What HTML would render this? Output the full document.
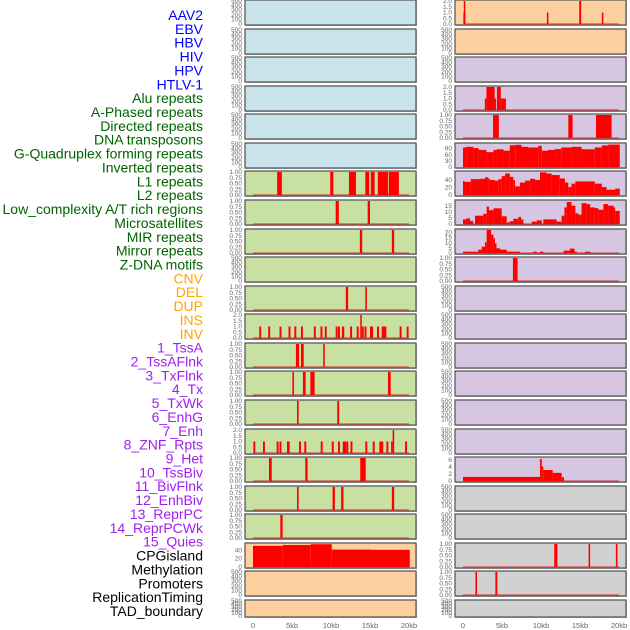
<!DOCTYPE html>
<html><head><meta charset="utf-8"><style>
html,body{margin:0;padding:0;background:#fff;}
svg{display:block;font-family:"Liberation Sans",sans-serif;}
</style></head><body>
<svg id="chart" width="630" height="630" viewBox="0 0 630 630" xmlns="http://www.w3.org/2000/svg"></svg>
<script>
const trackLabels=["AAV2","EBV","HBV","HIV","HPV","HTLV-1","Alu repeats","A-Phased repeats","Directed repeats","DNA transposons","G-Quadruplex forming repeats","Inverted repeats","L1 repeats","L2 repeats","Low_complexity A/T rich regions","Microsatellites","MIR repeats","Mirror repeats","Z-DNA motifs","CNV","DEL","DUP","INS","INV","1_TssA","2_TssAFlnk","3_TxFlnk","4_Tx","5_TxWk","6_EnhG","7_Enh","8_ZNF_Rpts","9_Het","10_TssBiv","11_BivFlnk","12_EnhBiv","13_ReprPC","14_ReprPCWk","15_Quies","CPGisland","Methylation","Promoters","ReplicationTiming","TAD_boundary"];
const labelGroups=["v","v","v","v","v","v","r","r","r","r","r","r","r","r","r","r","r","r","r","c","c","c","c","c","h","h","h","h","h","h","h","h","h","h","h","h","h","h","h","o","o","o","o","o"];
const xTickValues=[0,5,10,15,20];
const xTickLabels=["0","5kb","10kb","15kb","20kb"];
// background group per row
const leftBg=["b","b","b","b","b","b","g","g","g","g","g","g","g","g","g","g","g","g","g","p","p","p"];
const rightBg=["p","p","l","l","l","l","l","l","l","l","l","l","l","l","l","l","l","y","y","y","y","y"];
// tick sets: e=0..500 empty, u=0..1, t=0..2
const leftTickSet=["e","e","e","e","e","e","u","u","u","e","u","t","u","u","u","t","u","u","u","cpg","e","e"];
const rightTickSet=["t","e","e","t","u","gq","l1","lc","ms","u","e","e","e","e","e","e","het","e","e","u","u","e"];
const leftSegs=[[],[],[],[],[],[],
[[3.1,3.7,1],[9.9,10.3,1],[12.3,13.2,1],[14.4,14.9,1],[15.1,15.6,1],[16.0,17.3,1],[17.4,18.7,1]],
[[10.6,11.0,1],[14.7,15.0,1]],
[[13.7,14.0,1],[17.8,18.1,1]],
[],
[[11.9,12.2,1],[14.4,14.6,1]],
[[0.8,1.05,1],[1.95,2.2,1],[3.4,3.65,1],[4.55,4.8,1],[5.3,5.55,1],[6.15,6.4,1],[7.8,8.05,1],[8.65,8.9,1],[9.2,9.45,1],[10.6,10.85,1],[10.9,11.15,1],[11.4,11.7,1],[12.45,12.7,1],[13.3,13.55,1],[13.75,13.95,2],[13.95,14.2,1],[14.3,14.55,1],[15.0,15.4,1],[15.9,16.15,1],[16.5,17.1,1],[18.8,19.05,1],[19.7,19.95,1]],
[[5.5,5.9,1],[6.15,6.5,1],[9.0,9.2,1]],
[[5.05,5.25,1],[6.4,6.75,1],[7.35,7.9,1],[17.3,17.65,1]],
[[5.64,5.85,1],[10.8,11.05,1]],
[[0.05,0.3,1],[1.28,1.53,1],[3.03,3.28,1],[3.4,3.65,1],[4.36,4.7,1],[5.9,6.15,1],[6.58,6.83,1],[8.68,8.93,1],[10.1,10.35,1],[10.9,11.15,1],[11.5,11.95,1],[11.97,12.22,1],[12.5,12.75,1],[14.4,14.65,1],[15.35,15.6,1],[16.2,16.7,1],[17.1,17.35,1],[17.7,17.9,1],[17.9,18.1,2],[19.5,19.75,1]],
[[2.05,2.4,1],[6.7,7.0,1],[13.75,14.45,1]],
[[5.64,5.85,1],[10.2,10.5,1],[11.3,11.6,1],[17.8,18.1,1]],
[[3.5,3.8,1]],
[[0,3.8,51],[3.8,7.4,53],[7.4,10.1,55],[10.1,15,42],[15,20.1,41.5]],
[],[]];
const rightSegs=[
[[0.05,0.3,1],[0.1,0.25,2],[10.75,10.95,1],[14.9,15.15,2],[17.8,18.0,1]],
[],[],
[[2.8,3.0,1],[3.0,4.05,2],[4.05,4.2,1],[4.35,4.85,2],[4.85,5.5,1]],
[[3.85,4.6,1],[13.5,14.05,1],[17.05,19.05,1]],
[[0,0.4,96],[0.4,1.33,99],[1.33,2,93],[2,3,84],[3,3.9,73],[3.9,4.3,84],[4.3,5.2,87],[5.2,6,80],[6,6.7,107],[6.7,7.5,109],[7.5,8.4,99],[8.4,9.65,96],[9.65,10.1,104],[10.1,10.9,80],[10.9,11.8,84],[11.8,12.6,88],[12.6,13.9,96],[13.9,15.2,99],[15.2,16.9,87],[16.9,17.8,96],[17.8,18.6,106],[18.6,20.1,110]],
[[0,0.15,37],[0.15,1,35],[1,2.18,42],[2.18,2.82,43],[2.82,3.25,47],[3.25,3.46,43],[3.46,4.1,40],[4.1,4.53,38],[4.53,4.96,42],[4.96,5.4,50],[5.4,6,57],[6,6.45,48],[6.45,6.67,40],[6.67,7.3,23],[7.3,7.95,33],[7.95,8.6,38],[8.6,9.23,43],[9.23,9.87,40],[9.87,10.7,60],[10.7,11.37,57],[11.37,12.4,53],[12.4,13.07,44],[13.07,13.5,33],[13.5,13.9,21],[13.9,14.4,30],[14.4,16.9,36],[16.9,17.8,30],[17.8,18.4,21],[18.4,19.5,14],[19.5,20.1,17]],
[[0,0.4,3.9],[0.4,0.9,4.7],[0.9,1.3,2.6],[1.54,2.6,7],[2.6,3.03,8.5],[3.03,3.33,14.7],[3.33,3.9,11.6],[3.9,4.96,13.2],[4.96,5.6,6.5],[5.6,6.0,1.3],[6.0,6.45,2.3],[6.45,7.1,4.4],[7.1,7.44,6],[7.44,7.74,3.9],[8.8,9.45,2],[9.45,10.1,3.1],[10.3,12.0,3.9],[12.0,12.65,2],[12.65,13.0,7],[13.0,13.3,14],[13.3,13.9,18.6],[13.9,14.4,15.5],[14.4,14.8,9],[14.8,15.2,7.8],[15.2,15.85,17.6],[15.85,16.3,16.8],[16.3,16.9,14],[16.9,17.35,13.4],[17.35,18.0,12],[18.0,18.6,16.8],[18.6,19.3,15.5],[19.3,19.5,14],[19.5,20.1,11]],
[[0,1.96,1.3],[1.96,2.4,3.3],[2.4,2.82,6.2],[2.82,3.03,10.5],[3.03,3.6,22.6],[3.6,3.9,18],[3.9,4.1,14.4],[4.1,4.3,9.5],[4.3,4.75,4.6],[4.75,5.6,3.3],[5.6,7.3,1.3],[9.0,9.45,1.3],[9.87,10.3,1.3],[12.9,13.7,2.3],[13.7,14.3,4.3],[14.3,14.6,1.3],[15.65,16.3,1.3]],
[[6.4,7.0,1]],
[],[],[],[],[],[],
[[0,9.87,1.15],[9.87,10.1,6.2],[10.1,10.3,4.1],[10.3,11.5,3.1],[11.5,12.65,2.3],[12.65,12.95,1.06]],
[],[],
[[11.7,12.1,1],[16.1,16.3,1],[19.6,19.8,1]],
[[1.6,1.8,1],[4.15,4.4,1]],
[]];
const tickSets={
 e:{max:500,vals:[0,100,200,300,400,500],labels:["0","100","200","300","400","500"]},
 u:{max:1,vals:[0,0.25,0.5,0.75,1],labels:["0.00","0.25","0.50","0.75","1.00"]},
 t:{max:2,vals:[0,0.5,1,1.5,2],labels:["0.0","0.5","1.0","1.5","2.0"]},
 cpg:{max:55.5,vals:[0,20,40],labels:["0","20","40"]},
 gq:{max:113,vals:[0,30,60,90],labels:["0","30","60","90"]},
 l1:{max:61,vals:[0,20,40],labels:["0","20","40"]},
 lc:{max:19.4,vals:[0,5,10,15],labels:["0","5","10","15"]},
 ms:{max:22.6,vals:[0,5,10,15,20],labels:["0","5","10","15","20"]},
 het:{max:6.5,vals:[0,2,4,6],labels:["0","2","4","6"]}
};
const bgColors={b:"#c8e3ea",g:"#c8e1a3",p:"#fed09f",l:"#d6c6e2",y:"#d1d1d1"};
const labelColors={v:"#0000ff",r:"#006400",c:"#ffa500",h:"#a020f0",o:"#000000"};

const NS="http://www.w3.org/2000/svg";
const svg=document.getElementById("chart");
function mk(tag,attrs,parent){const e=document.createElementNS(NS,tag);for(const k in attrs)e.setAttribute(k,attrs[k]);(parent||svg).appendChild(e);return e;}
const pitch=28.57;
function rowTop(i){return Math.round(i*pitch);}
function rowH(i){return i===21?17:25;}

// labels
const lg=mk("g",{});


trackLabels.forEach((t,i)=>{
  const tx=mk("text",{x:203,y:15+i*13.86+5,"text-anchor":"end","font-size":"14",fill:labelColors[labelGroups[i]]},lg);
  tx.textContent=t;
  
  
});

function drawPanel(col,i,bgKey,tickKey,segs){
  const px=col===0?245:455, pw=171, base=col===0?253:463;
  const top=rowTop(i), h=rowH(i);
  const ts=tickSets[tickKey];
  const g=mk("g",{});
  
  
  mk("rect",{x:px+1,y:top+1,width:pw,height:h,fill:"#bbb"},g);
  mk("rect",{x:px,y:top,width:pw,height:h,fill:bgColors[bgKey],stroke:"#5a5a5a","stroke-width":1.3},g);
  const xs=kb=>base+kb*7.8;
  const ys=v=>top+h-1-v/ts.max*(h-2);
  ts.vals.forEach((v,k)=>{
    const t=mk("text",{x:px-3,y:ys(v)+2,"text-anchor":"end","font-size":"6.5",fill:"#666"},g);
    t.textContent=ts.labels[k];
    
    
  });
  if(segs.length){
    const bl=mk("rect",{x:xs(0),y:ys(0)-1,width:xs(20)-xs(0),height:2,fill:"rgba(210,0,0,0.4)"},g);
    
    
  }
  segs.forEach(s=>{
    const x0=xs(s[0]),x1=xs(s[1]),y1=ys(s[2]);
    const r=mk("rect",{x:x0,y:y1,width:Math.max(1.5,x1-x0),height:ys(0)-y1,fill:"#ff0000"},g);
    
    
  });
}
for(let i=0;i<22;i++){
  drawPanel(0,i,leftBg[i],leftTickSet[i],leftSegs[i]);
  drawPanel(1,i,rightBg[i],rightTickSet[i],rightSegs[i]);
}
[253,463].forEach((base,c)=>{
  xTickValues.forEach((v,k)=>{
    const t=mk("text",{x:base+v*7.8,y:628,"text-anchor":"middle","font-size":"7.5",fill:"#666"});
    t.textContent=xTickLabels[k];
    
    
  });
});
</script>
</body></html>
